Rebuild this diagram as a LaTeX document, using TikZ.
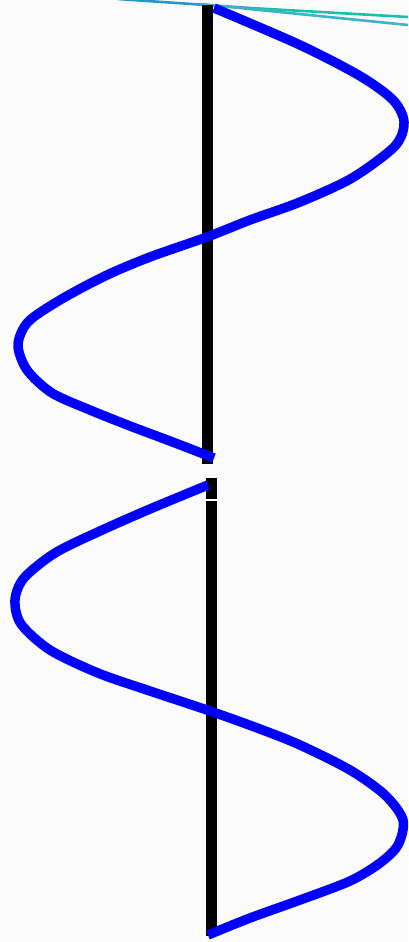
\documentclass[tikz,border=0pt]{standalone}
\begin{document}
\begin{tikzpicture}[x=1pt,y=-1pt,
  bar/.style={fill=black},
  wave/.style={draw=blue,line width=9.5pt,line cap=butt,line join=round},
  topline/.style={line width=2.6pt}]
\fill[white!97!gray] (0,0) rectangle (408,942);
\useasboundingbox (0,0) rectangle (408,942);
\draw[topline,color={rgb,255:red,40;green,150;blue,200}] (118,-1) -- (250,8);
\draw[topline,color={rgb,255:red,30;green,190;blue,170}] (250,8) -- (408,17);
\draw[topline,color={rgb,255:red,60;green,180;blue,200}] (200,4) -- (408,25);
% bars
\fill[bar] (202,5) rectangle (213,464);
\fill[bar] (206,478) rectangle (217,499);
\fill[bar] (206,501) rectangle (217,936);
% upper wave
\draw[wave] plot[smooth,tension=0.5] coordinates {(214,8) (300,45) (360,76) (393,100) (404,122) (395,146) (352,178) (300,202) (250,220) (207,237) (150,257) (105,276) (60,300) (28,322) (18,345) (27,370) (52,393) (90,410) (130,426) (170,441) (214,458)};
% lower wave
\draw[wave] plot[smooth,tension=0.5] coordinates {(208,485) (150,509) (100,531) (55,553) (24,578) (15,600) (21,624) (50,650) (98,673) (150,691) (210,711) (260,729) (300,745) (350,770) (385,795) (403,820) (398,845) (380,863) (350,881) (300,900) (250,918) (208,935)};
\end{tikzpicture}
\end{document}
